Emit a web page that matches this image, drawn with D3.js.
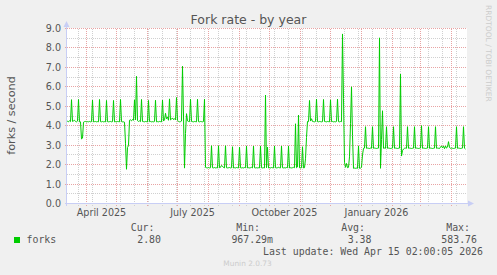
<!DOCTYPE html>
<html>
<head>
<meta charset="utf-8">
<script src="https://cdn.jsdelivr.net/npm/d3@7"></script>
<style>
  html, body { margin: 0; padding: 0; background: #f0f0f0; }
  svg { display: block; }
</style>
</head>
<body>
<div id="munin-graph"></div>
<script>
// daily fork rate (forks / second), one row per week, first value is Wed 12 Mar 2025
var forks = [
  4.21, 4.23, 4.20, 4.26, 4.21, 5.34, 4.22,
  4.25, 4.28, 4.22, 4.20, 4.24, 5.35, 4.20,
  4.20, 3.32, 3.36, 4.18, 4.21, 4.22, 4.20,
  4.21, 4.20, 4.22, 4.20, 4.21, 5.32, 4.20,
  4.21, 4.22, 4.20, 4.21, 4.20, 5.35, 4.21,
  4.20, 4.22, 4.20, 4.21, 4.20, 5.30, 4.21,
  4.20, 4.21, 4.22, 4.20, 4.21, 5.30, 4.20,
  4.21, 4.20, 4.22, 4.21, 4.20, 5.35, 4.21,
  4.20, 4.20, 4.18, 3.10, 1.76, 2.88, 2.98,
  4.28, 4.30, 4.25, 4.32, 4.28, 5.33, 4.30,
  6.54, 4.26, 4.22, 4.25, 4.21, 5.35, 4.22,
  4.21, 4.20, 4.22, 4.21, 4.20, 5.30, 4.21,
  4.22, 4.20, 4.21, 4.20, 4.22, 5.31, 4.20,
  4.21, 4.20, 4.22, 4.21, 4.20, 5.32, 4.24,
  4.30, 4.64, 4.36, 4.45, 4.28, 5.38, 4.30,
  4.34, 4.40, 4.32, 4.36, 4.30, 5.45, 4.28,
  4.22, 4.20, 4.21, 4.24, 7.06, 4.50, 1.82,
  3.60, 4.62, 4.25, 4.22, 4.21, 5.36, 4.22,
  4.21, 4.20, 4.22, 4.21, 4.20, 5.36, 4.21,
  4.20, 4.22, 4.21, 4.20, 4.22, 5.36, 1.86,
  1.84, 1.83, 1.85, 1.83, 1.84, 2.97, 1.84,
  1.83, 1.85, 1.83, 1.84, 1.83, 2.97, 1.84,
  1.86, 1.96, 1.92, 1.85, 1.83, 2.97, 1.84,
  1.83, 1.84, 1.85, 1.83, 1.84, 2.92, 1.83,
  1.84, 1.83, 1.85, 1.84, 1.83, 2.90, 1.84,
  1.83, 1.84, 1.83, 1.85, 1.84, 2.95, 1.83,
  1.84, 1.83, 1.84, 1.86, 1.83, 2.95, 1.84,
  1.83, 1.84, 1.83, 1.84, 1.83, 2.95, 1.84,
  1.83, 1.84, 1.83, 5.58, 1.84, 2.90, 1.83,
  1.84, 1.83, 1.85, 1.84, 1.83, 2.95, 1.84,
  1.83, 1.84, 1.86, 1.84, 1.83, 2.95, 1.84,
  1.83, 1.84, 1.83, 1.85, 1.84, 2.95, 1.83,
  1.84, 1.83, 1.84, 1.86, 1.84, 4.10, 1.84,
  1.88, 4.55, 1.84, 1.83, 1.84, 2.92, 1.83,
  1.84, 2.30, 3.40, 4.22, 4.21, 5.30, 4.24,
  4.36, 4.22, 4.21, 4.20, 4.22, 5.37, 4.21,
  4.20, 4.22, 4.21, 4.20, 4.21, 5.35, 4.22,
  4.21, 4.20, 4.22, 4.21, 4.20, 5.33, 4.21,
  4.22, 4.20, 4.21, 4.20, 4.22, 5.37, 4.21,
  4.20, 4.22, 4.21, 8.72, 5.40, 2.12, 1.86,
  2.06, 1.84, 1.86, 2.40, 4.10, 6.00, 3.50,
  1.81, 1.82, 1.81, 1.82, 1.81, 2.96, 1.81,
  1.82, 1.86, 2.50, 2.84, 2.85, 3.95, 2.84,
  2.85, 2.84, 2.83, 2.85, 2.84, 3.95, 2.84,
  2.85, 2.84, 2.83, 2.84, 2.85, 8.52, 1.81,
  3.30, 4.77, 2.84, 2.85, 2.84, 3.95, 2.84,
  2.85, 2.84, 2.83, 2.84, 2.85, 3.95, 2.84,
  2.85, 2.84, 2.83, 2.84, 2.85, 6.66, 2.44,
  2.72, 2.80, 2.84, 2.85, 2.84, 3.95, 2.84,
  2.85, 2.84, 2.83, 2.84, 2.85, 3.95, 2.84,
  2.85, 2.84, 2.83, 2.84, 2.85, 4.00, 2.84,
  2.85, 2.84, 2.83, 2.84, 2.85, 3.95, 2.84,
  2.85, 2.84, 2.83, 2.84, 2.85, 3.95, 2.84,
  2.85, 2.84, 2.83, 2.90, 2.96, 2.86, 2.95,
  2.82, 2.96, 2.85, 2.90, 3.18, 2.88, 2.84,
  2.85, 2.84, 2.83, 2.84, 2.85, 3.95, 2.84,
  2.85, 2.84, 2.83, 2.84, 2.85, 3.95, 2.84,
  2.80
];

var yLabels = [0, 1, 2, 3, 4, 5, 6, 7, 8, 9];
var yMinor = [0.5, 1.5, 2.5, 3.5, 4.5, 5.5, 6.5, 7.5, 8.5];
var xLabels = ['April 2025', 'July 2025', 'October 2025', 'January 2026'];
var xLabelMonths = [new Date(Date.UTC(2025, 3, 1)), new Date(Date.UTC(2025, 6, 1)),
  new Date(Date.UTC(2025, 9, 1)), new Date(Date.UTC(2026, 0, 1))];
var legendNames = ['Cur:', 'Min:', 'Avg:', 'Max:'];
var legendValues = ['2.80', '967.29m', '3.38', '583.76'];
var seriesName = 'forks';
var lastUpdate = 'Last update: Wed Apr 15 02:00:05 2026';

var firstDay = new Date(Date.UTC(2025, 2, 12));
var viewStart = new Date(Date.UTC(2025, 2, 12, 12));
var viewEnd = new Date(Date.UTC(2026, 3, 16, 12));

var W = 497, H = 275;
var plot = { left: 67, right: 467, top: 28.5, bottom: 203.5 };
var sans = "'DejaVu Sans', sans-serif";
var mono = "'DejaVu Sans Mono', monospace";
var textColor = '#555555';
var axisColor = '#c8cef5';
var minorColor = '#d0d0d0';
var majorColor = '#e8a4a4';
var lineColor = '#00cc00';

var svg = d3.select('#munin-graph').append('svg')
  .attr('width', W).attr('height', H);

svg.append('rect').attr('width', W).attr('height', H).attr('fill', '#f0f0f0');

var x = d3.scaleUtc().domain([viewStart, viewEnd]).range([plot.left, plot.right]);
var y = d3.scaleLinear().domain([0, 9]).range([plot.bottom, plot.top]);

var crisp = function (v) { return Math.floor(v) + 0.5; };

svg.append('rect')
  .attr('x', plot.left).attr('y', plot.top - 0.5)
  .attr('width', plot.right - plot.left).attr('height', plot.bottom - plot.top + 0.5)
  .attr('fill', '#ffffff');

var grid = svg.append('g').attr('shape-rendering', 'crispEdges')
  .attr('stroke-dasharray', '1,1').attr('fill', 'none');

// minor grid: every 0.5 and every second Monday
grid.selectAll('line.ymin').data(yMinor).enter().append('line')
  .attr('x1', plot.left).attr('x2', plot.right)
  .attr('y1', function (d) { return crisp(y(d)); })
  .attr('y2', function (d) { return crisp(y(d)); })
  .attr('stroke', minorColor);

var minorDays = d3.utcDay.range(new Date(Date.UTC(2025, 2, 24)), viewEnd, 14);
grid.selectAll('line.xmin').data(minorDays).enter().append('line')
  .attr('x1', function (d) { return crisp(x(d)); })
  .attr('x2', function (d) { return crisp(x(d)); })
  .attr('y1', plot.top).attr('y2', plot.bottom + 2)
  .attr('stroke', minorColor);

// major grid: integers and month starts
grid.selectAll('line.ymaj').data(yLabels).enter().append('line')
  .attr('x1', plot.left - 2).attr('x2', plot.right)
  .attr('y1', function (d) { return crisp(y(d)); })
  .attr('y2', function (d) { return crisp(y(d)); })
  .attr('stroke', majorColor);

var months = d3.utcMonth.range(viewStart, viewEnd);
grid.selectAll('line.xmaj').data(months).enter().append('line')
  .attr('x1', function (d) { return crisp(x(d)); })
  .attr('x2', function (d) { return crisp(x(d)); })
  .attr('y1', plot.top).attr('y2', plot.bottom + 3)
  .attr('stroke', majorColor);

// axes with arrow heads
var axes = svg.append('g').attr('shape-rendering', 'crispEdges').attr('stroke', axisColor);
axes.append('line').attr('x1', plot.left - 2).attr('x2', plot.right + 3)
  .attr('y1', plot.bottom).attr('y2', plot.bottom);
axes.append('line').attr('x1', plot.left - 0.5).attr('x2', plot.left - 0.5)
  .attr('y1', plot.bottom + 2).attr('y2', plot.top - 4);
svg.append('path')
  .attr('d', 'M' + (plot.right + 1) + ',' + (plot.bottom - 3) + 'L' + (plot.right + 7) + ',' + plot.bottom +
    'L' + (plot.right + 1) + ',' + (plot.bottom + 3) + 'Z')
  .attr('fill', axisColor);
svg.append('path')
  .attr('d', 'M' + (plot.left - 3.5) + ',' + (plot.top - 1.5) + 'L' + (plot.left - 0.5) + ',' + (plot.top - 7.5) +
    'L' + (plot.left + 2.5) + ',' + (plot.top - 1.5) + 'Z')
  .attr('fill', axisColor);

// tick labels
svg.append('g').selectAll('text').data(yLabels).enter().append('text')
  .attr('x', 61).attr('y', function (d) { return crisp(y(d)); })
  .attr('dy', '0.36em')
  .attr('text-anchor', 'end')
  .attr('font-family', sans).attr('font-size', '9.6px').attr('fill', textColor)
  .text(function (d) { return d3.format('.1f')(d); });

svg.append('g').selectAll('text').data(xLabels).enter().append('text')
  .attr('x', function (d, i) { return x(d3.utcDay.offset(xLabelMonths[i], 15)); })
  .attr('y', 215.5)
  .attr('text-anchor', 'middle')
  .attr('font-family', sans).attr('font-size', '9.6px').attr('fill', textColor)
  .text(function (d) { return d; });

// the series
var line = d3.line()
  .x(function (d, i) { return x(d3.utcDay.offset(firstDay, i)); })
  .y(function (d) { return y(d); });

svg.append('defs').append('clipPath').attr('id', 'plot-clip')
  .append('rect').attr('x', plot.left).attr('y', plot.top - 1)
  .attr('width', plot.right - plot.left).attr('height', plot.bottom - plot.top + 1);

svg.append('path').datum(forks)
  .attr('clip-path', 'url(#plot-clip)')
  .attr('d', line)
  .attr('fill', 'none')
  .attr('stroke', lineColor)
  .attr('stroke-width', 1);

// titles
svg.append('text').attr('x', 248.5).attr('y', 24)
  .attr('text-anchor', 'middle')
  .attr('font-family', sans).attr('font-size', '12.5px').attr('fill', textColor)
  .text('Fork rate - by year');

svg.append('text')
  .attr('transform', 'translate(15,115.5) rotate(-90)')
  .attr('text-anchor', 'middle')
  .attr('font-family', sans).attr('font-size', '11.2px').attr('fill', textColor)
  .text('forks / second');

svg.append('text')
  .attr('transform', 'translate(485.5,5) rotate(90)')
  .attr('font-family', sans).attr('font-size', '7.5px').attr('fill', '#cccccc')
  .text('RRDTOOL / TOBI OETIKER');

// legend
var labelEnds = [154.5, 260, 365, 470];
var valueEnds = [161, 273, 371.5, 477];

svg.append('rect').attr('x', 14).attr('y', 237).attr('width', 6).attr('height', 6)
  .attr('fill', lineColor);
svg.append('text').attr('x', 26.5).attr('y', 242.5)
  .attr('font-family', mono).attr('font-size', '9.9px').attr('fill', textColor)
  .text(seriesName);

svg.append('g').selectAll('text').data(legendNames).enter().append('text')
  .attr('x', function (d, i) { return labelEnds[i]; }).attr('y', 230.5)
  .attr('text-anchor', 'end')
  .attr('font-family', mono).attr('font-size', '9.9px').attr('fill', textColor)
  .text(function (d) { return d; });

svg.append('g').selectAll('text').data(legendValues).enter().append('text')
  .attr('x', function (d, i) { return valueEnds[i]; }).attr('y', 242.5)
  .attr('text-anchor', 'end')
  .attr('font-family', mono).attr('font-size', '9.9px').attr('fill', textColor)
  .text(function (d) { return d; });

svg.append('text').attr('x', 483).attr('y', 254.5)
  .attr('text-anchor', 'end')
  .attr('font-family', mono).attr('font-size', '9.9px').attr('fill', textColor)
  .text(lastUpdate);

svg.append('text').attr('x', 247.5).attr('y', 266)
  .attr('text-anchor', 'middle')
  .attr('font-family', sans).attr('font-size', '7.4px').attr('fill', '#cccccc')
  .text('Munin 2.0.73');
</script>
</body>
</html>
